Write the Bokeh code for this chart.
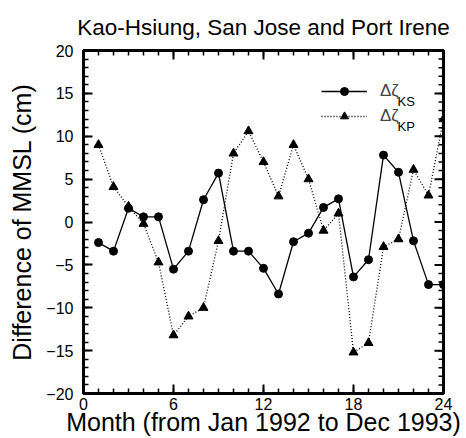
import math
from bokeh.plotting import figure
from bokeh.models import FixedTicker, Range1d, Legend, LegendItem, Label
from bokeh.embed import file_html
from bokeh.resources import INLINE

# ---- data ----
months = list(range(1, 25))
ks = [-2.4, -3.4, 1.6, 0.6, 0.6, -5.5, -3.4, 2.6, 5.7, -3.4, -3.4, -5.4,
      -8.4, -2.3, -1.3, 1.7, 2.7, -6.4, -4.4, 7.8, 5.8, -2.2, -7.3, -7.3]
kp = [9.0, 4.1, 1.8, -0.2, -4.7, -13.2, -11.0, -10.0, -2.2, 8.0, 10.6, 7.0,
      3.0, 9.0, 5.0, -1.0, 1.0, -15.2, -14.1, -2.9, -2.0, 6.1, 3.1, 12.0]
x_ticks = [0, 6, 12, 18, 24]
x_minor = list(range(0, 25))
y_ticks = [-20, -15, -10, -5, 0, 5, 10, 15, 20]
y_minor = list(range(-20, 21))
y_tick_labels = ["\u221220", "\u221215", "\u221210", "\u22125", "0", "5", "10", "15", "20"]
title_text = "Kao-Hsiung, San Jose and Port Irene"
x_label = "Month (from Jan 1992 to Dec 1993)"
y_label = "Difference of MMSL (cm)"
legend_main = "\u0394\u03b6"
legend_subs = ["KS", "KP"]

FONT = "Liberation Sans"
W, H = 466, 438
xmin, xmax = x_ticks[0], x_ticks[-1]
ymin, ymax = y_ticks[0], y_ticks[-1]

p = figure(width=W, height=H, x_range=Range1d(xmin, xmax), y_range=Range1d(ymin, ymax),
           output_backend="svg", toolbar_location=None,
           min_border_left=83, min_border_right=23, min_border_top=50, min_border_bottom=45,
           title=title_text)
p.background_fill_color = "white"
p.border_fill_color = "white"
p.xgrid.visible = False
p.ygrid.visible = False
p.outline_line_color = "black"
p.outline_line_width = 3

p.title.align = "center"
p.title.text_font = FONT
p.title.text_font_style = "normal"
p.title.text_font_size = "22.5px"
p.title.text_color = "black"
p.title.standoff = 22

bottom_ax = p.below[0]
left_ax = p.left[0]
bottom_ax.ticker = FixedTicker(ticks=x_ticks, minor_ticks=x_minor)
left_ax.ticker = FixedTicker(ticks=y_ticks, minor_ticks=y_minor)
left_ax.major_label_overrides = {t: l for t, l in zip(y_ticks, y_tick_labels)}

for ax in (bottom_ax, left_ax):
    ax.major_tick_in = 9
    ax.major_tick_out = 0
    ax.minor_tick_in = 5
    ax.minor_tick_out = 0
    ax.axis_line_color = "black"
    ax.axis_line_width = 3
    ax.major_tick_line_color = "black"
    ax.major_tick_line_width = 2
    ax.minor_tick_line_color = "black"
    ax.minor_tick_line_width = 1.5
    ax.major_label_text_font = FONT
    ax.major_label_text_font_size = "16px"
    ax.major_label_text_color = "black"
    ax.axis_label_text_font = FONT
    ax.axis_label_text_font_style = "normal"
    ax.axis_label_text_font_size = "25px"
    ax.axis_label_text_color = "black"

bottom_ax.axis_label = x_label
bottom_ax.major_label_standoff = 4
bottom_ax.axis_label_standoff = -5
left_ax.axis_label = y_label
left_ax.major_label_standoff = 10
left_ax.axis_label_standoff = 7

# inward ticks on the top and right frame edges (screen-length rays)
def edge_ticks(xs, ys, length, angle, width):
    p.ray(x=xs, y=ys, length=length, length_units="screen", angle=angle,
          line_color="black", line_width=width)

edge_ticks(x_minor, [ymax] * len(x_minor), 5, -math.pi / 2, 1.5)
edge_ticks(x_ticks, [ymax] * len(x_ticks), 9, -math.pi / 2, 2)
edge_ticks([xmax] * len(y_minor), y_minor, 5, math.pi, 1.5)
edge_ticks([xmax] * len(y_ticks), y_ticks, 9, math.pi, 2)

ks_line = p.line(months, ks, line_color="black", line_width=1.3)
ks_pts = p.scatter(months, ks, marker="circle", size=8, fill_color="black", line_color="black")
kp_line = p.line(months, kp, line_color="black", line_width=1.3, line_dash="1 2")
kp_pts = p.scatter(months, kp, marker="triangle", size=9, fill_color="black", line_color="black")

legend = Legend(items=[LegendItem(label=legend_main, renderers=[ks_line, ks_pts]),
                       LegendItem(label=legend_main, renderers=[kp_line, kp_pts])],
                location=(238, 267), border_line_color=None, background_fill_alpha=0,
                padding=0, margin=0, spacing=5, glyph_width=46, glyph_height=20,
                label_standoff=13, label_text_font=FONT, label_text_font_size="17px",
                label_height=20)
p.add_layout(legend)

for i, s in enumerate(legend_subs):
    p.add_layout(Label(x=314, y=292 - 25 * i, x_units="screen", y_units="screen", text=s,
                       text_font=FONT, text_font_size="13px", text_baseline="middle",
                       text_color="black"))

open("out.html", "w").write(file_html(p, INLINE))
